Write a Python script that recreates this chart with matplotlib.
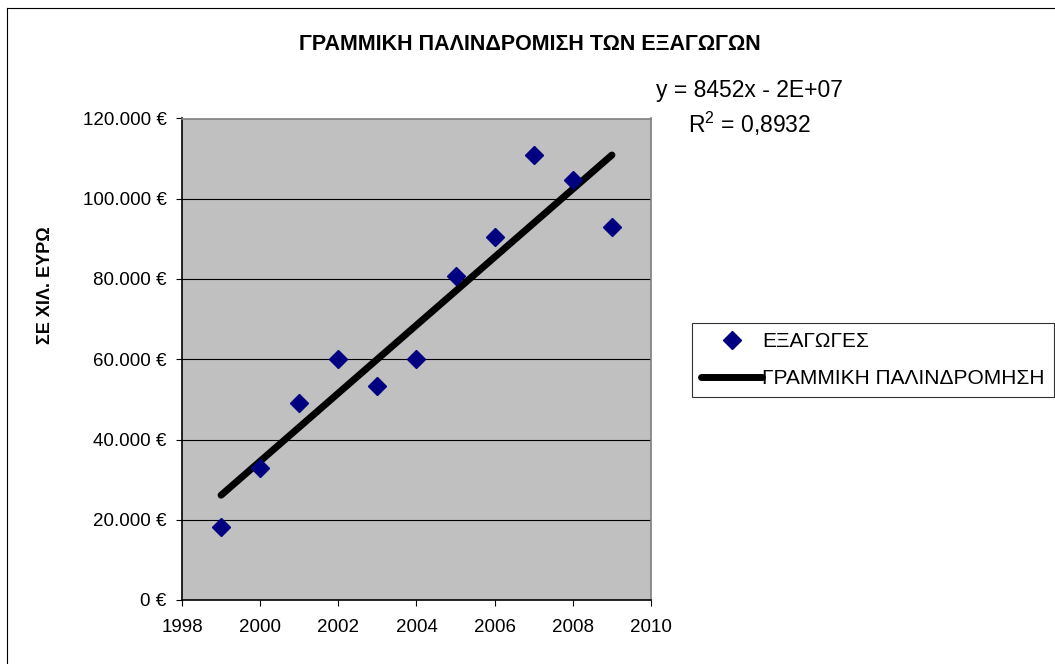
import numpy as np
import matplotlib.pyplot as plt
from matplotlib.lines import Line2D
from matplotlib.ticker import FuncFormatter

# Data
years = [1999, 2000, 2001, 2002, 2003, 2004, 2005, 2006, 2007, 2008, 2009]
exports = [18300, 33000, 49200, 60100, 53400, 60100, 80700, 90400, 110800, 104600, 93000]
y_ticks = [0, 20000, 40000, 60000, 80000, 100000, 120000]
x_ticks = [1998, 2000, 2002, 2004, 2006, 2008, 2010]

title = 'ΓΡΑΜΜΙΚΗ ΠΑΛΙΝΔΡΟΜΙΣΗ ΤΩΝ ΕΞΑΓΩΓΩΝ'
y_label = 'ΣΕ ΧΙΛ. ΕΥΡΩ'
series_name = 'ΕΞΑΓΩΓΕΣ'
trend_name = 'ΓΡΑΜΜΙΚΗ ΠΑΛΙΝΔΡΟΜΗΣΗ'
eq_text = 'y = 8452x - 2E+07'
r2_text = r'R$^2$ = 0,8932'

plt.rcParams['font.family'] = ['Liberation Sans', 'DejaVu Sans']
plt.rcParams['mathtext.fontset'] = 'custom'
plt.rcParams['mathtext.rm'] = 'Liberation Sans'

W, H = 1055, 664
fig = plt.figure(figsize=(W / 100, H / 100), dpi=100)
ax = fig.add_axes([182 / W, 1 - 600 / H, (651 - 182) / W, (600 - 118.5) / H])

# Linear trend
x = np.array(years, dtype=float)
y = np.array(exports, dtype=float)
slope, intercept = np.polyfit(x, y, 1)
fit = slope * x + intercept

ax.set_facecolor('#C0C0C0')
for t in y_ticks[1:-1]:
    ax.axhline(t, color='black', lw=0.8, zorder=1)

ax.plot(x, fit, color='black', lw=5, solid_capstyle='round', zorder=2, label=trend_name)
ax.plot(x, y, linestyle='none', marker='D', ms=9, color='#000080', zorder=3, label=series_name)

ax.set_xlim(1998, 2010)
ax.set_ylim(0, 120000)
ax.set_xticks(x_ticks)
ax.set_yticks(y_ticks)
ax.yaxis.set_major_formatter(FuncFormatter(lambda v, p: f'{int(v):,}'.replace(',', '.') + ' €'))
ax.tick_params(axis='both', direction='out', length=4, width=0.8, labelsize=13.5, color='black')
ax.tick_params(axis='x', pad=10)
ax.tick_params(axis='y', pad=7)

ax.spines['left'].set_color('black')
ax.spines['bottom'].set_color('black')
ax.spines['top'].set_color('#808080')
ax.spines['right'].set_color('#808080')
for s in ax.spines.values():
    s.set_linewidth(1.2)

fig.text(530 / W, 1 - 45 / H, title, ha='center', va='center', fontsize=15.5, fontweight='bold')
fig.text(46 / W, 1 - 285 / H, y_label, ha='center', va='center', rotation=90,
         fontsize=13, fontweight='bold')

fig.text(749 / W, 1 - 90 / H, eq_text, ha='center', va='center', fontsize=16.5)
fig.text(750 / W, 1 - 124 / H, r2_text, ha='center', va='center', fontsize=16.5)

# Legend: marker entry first, then the trend line
handles, labels = ax.get_legend_handles_labels()
leg = fig.legend(handles[::-1], labels[::-1], loc='upper left',
                 bbox_to_anchor=(692 / W, 1 - 323 / H), fontsize=15, frameon=True,
                 fancybox=False, edgecolor='black', handlelength=2.9, handletextpad=0.0,
                 borderpad=0.45, labelspacing=0.85, borderaxespad=0)
leg.get_frame().set_linewidth(0.8)

# Outer chart border (only left and top visible in the crop)
fig.add_artist(Line2D([7 / W, 7 / W], [0, 1 - 8 / H], color='black', lw=0.8))
fig.add_artist(Line2D([7 / W, 1], [1 - 8 / H, 1 - 8 / H], color='black', lw=0.8))

fig.savefig('out.png', dpi=100)
